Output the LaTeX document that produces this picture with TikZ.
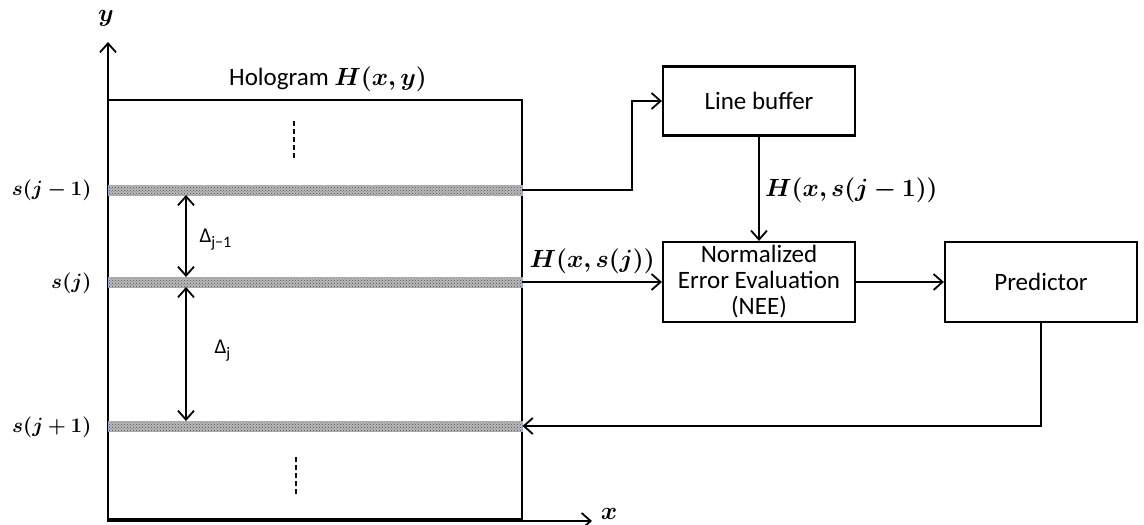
\documentclass[tikz,border=0pt]{standalone}
\usepackage{amsmath,bm}
\usepackage{fontspec}
\setmainfont{Carlito}
\usetikzlibrary{arrows.meta,patterns}
\begin{document}
\begin{tikzpicture}[x=1pt,y=-1pt,
  every node/.style={font=\fontsize{25}{26}\selectfont},
  mathlab/.style={font=\fontsize{24}{26}\selectfont},
  rowlab/.style={font=\fontsize{22}{24}\selectfont,anchor=east},
  blk/.style={draw,line width=2.2pt,minimum width=192pt,inner sep=0pt,align=center},
  strip/.style={draw={rgb,255:red,150;green,172;blue,210},line width=0.9pt,
    preaction={fill=gray!55},pattern=crosshatch dots,pattern color=black!70,
    minimum width=414pt,minimum height=10pt,inner sep=0pt},
  tip/.style={-{Straight Barb[length=9pt,width=16pt,line width=1.8pt]}},
  conn/.style={line width=1.8pt,tip},
  dbl/.style={line width=1.8pt,{Straight Barb[length=9pt,width=16pt,line width=1.8pt]}-{Straight Barb[length=9pt,width=16pt,line width=1.8pt]}},
  dashv/.style={line width=1.8pt,dash pattern=on 5pt off 3pt}]
\useasboundingbox (0,0) rectangle (1144,525);

% hologram frame and axes
\draw[line width=2.2pt] (108,100) -- (522,100) -- (522,519) -- (108,519);
\draw[conn,line width=2.4pt] (108,521) -- (108,42);
\draw[conn,line width=2.4pt] (107,521) -- (592,521);
\node[mathlab] (ylab) at (106,18) {$\bm{y}$};
\node[mathlab] (xlab) at (609,514) {$\bm{x}$};
\node (holo) at (328,79) {Hologram {\fontsize{23}{24}\selectfont$\bm{H(x,y)}$}};

% sampled rows
\node[strip] (sa) at (315,190) {};
\node[strip] (sb) at (315,282) {};
\node[strip] (sc) at (315,426) {};
\node[rowlab] (la) at (95,190) {$\bm{s(j-1)}$};
\node[rowlab] (lb) at (95,283) {$\bm{s(j)}$};
\node[rowlab] (lc) at (95,427) {$\bm{s(j+1)}$};

% row spacings
\coordinate (d1) at (186,195);
\coordinate (d2) at (186,277);
\coordinate (d3) at (186,287);
\coordinate (d4) at (186,421);
\draw[dbl] (d1) -- (d2);
\draw[dbl] (d3) -- (d4);
\node[anchor=west,font=\fontsize{21}{22}\selectfont] (da) at (196,240) {Δ\raisebox{-5pt}{\fontsize{16}{16}\selectfont j−1}};
\node[anchor=west,font=\fontsize{21}{22}\selectfont] (db) at (211,351) {Δ\raisebox{-5pt}{\fontsize{16}{16}\selectfont j}};

% omitted rows
\draw[dashv] (294,121) -- (294,158);
\draw[dashv] (296,457) -- (296,494);

% processing blocks
\node[blk,minimum height=69pt] (buf) at (759,101) {Line buffer};
\node[blk,minimum height=80pt] (nee) at (759,282) {Normalized\\Error Evaluation\\(NEE)};
\node[blk,minimum height=80pt] (pred) at (1041,282) {Predictor};

% data flow
\draw[conn] (sa.east) -- (632,190) |- (buf.west);
\draw[conn] (buf.south) -- (nee.north) node[midway,anchor=west,xshift=2pt,yshift=-2pt] (hlab1) {$\bm{H(x,s(j-1))}$};
\draw[conn] (sb.east) -- (nee.west) node[midway,anchor=south,yshift=4pt] (hlab2) {$\bm{H(x,s(j))}$};
\draw[conn] (nee.east) -- (pred.west);
\draw[conn] (pred.south) |- (sc.east);
\end{tikzpicture}
\end{document}
